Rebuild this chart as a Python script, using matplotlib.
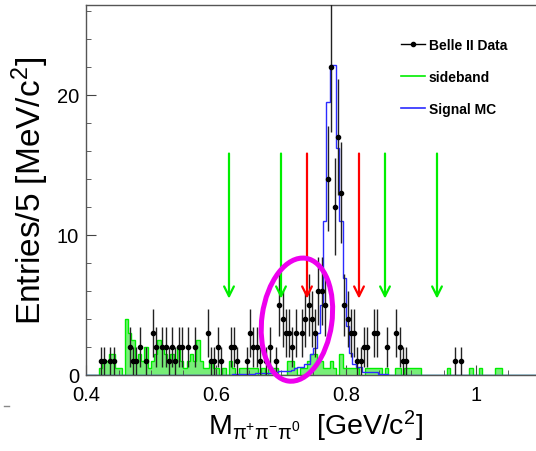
import numpy as np
import matplotlib.pyplot as plt
from matplotlib.patches import Ellipse
from matplotlib.lines import Line2D
from matplotlib.ticker import MultipleLocator, FuncFormatter
from matplotlib.transforms import ScaledTranslation

plt.rcParams['font.family'] = ['Liberation Sans', 'DejaVu Sans']
plt.rcParams['mathtext.fontset'] = 'custom'
plt.rcParams['mathtext.rm'] = 'Liberation Sans'
plt.rcParams['mathtext.it'] = 'Liberation Sans'

# 5 MeV bins from 0.40 to 1.10 GeV
bin_lo = 0.40
bin_width = 0.005

# observed counts per bin
data_counts = [
    0, 0, 0, 0, 1, 1, 0, 1, 1, 0, 0, 0, 0, 2, 1, 1, 2, 0, 1, 0,
    3, 2, 0, 2, 2, 1, 2, 1, 2, 2, 0, 2, 0, 2, 0, 0, 0, 3, 1, 1,
    2, 1, 0, 0, 2, 2, 1, 0, 0, 1, 3, 2, 2, 1, 0, 1, 2, 0, 1, 5,
    4, 3, 3, 2, 3, 0, 3, 4, 5, 4, 3, 6, 6, 5, 14, 22, 12, 17, 13, 5,
    4, 3, 3, 1, 1, 2, 2, 0, 3, 3, 0, 0, 2, 0, 0, 3, 2, 1, 1, 0,
    0, 0, 0, 0, 0, 0, 0, 0, 0, 0, 0, 0, 0, 1, 0, 1, 0, 0, 0, 0,
    0, 0, 0, 0, 0, 0, 0, 0, 0, 0, 0, 0, 0, 0, 0, 0, 0, 0, 0, 0,
]

# scaled sideband entries per bin
sideband = [
    0, 0, 0, 0, 0.5, 1, 1, 1.5, 1.5, 0.5, 0.5, 0, 4, 3, 2.5, 1, 1.5, 1, 2, 0.5,
    1, 1.5, 2.5, 2, 1.5, 1, 1.5, 1, 2, 1, 0.5, 1, 1.5, 1, 2.5, 1, 0.5, 0.5, 1, 0.5,
    0.5, 0, 0.5, 0, 1, 0.5, 0, 0.5, 0.5, 0.5, 0.5, 0.5, 0.5, 0, 0.5, 0, 0.5, 0.5, 0.5, 0,
    0, 0, 1, 1, 0.5, 0, 0.5, 0.5, 1, 1.5, 1.5, 1, 1, 0.5, 0.5, 1, 0.5, 0, 1.5, 0.5,
    0.5, 0.5, 0.5, 0.5, 0, 0, 0.5, 0.5, 0.5, 0.5, 0.5, 0, 0.5, 0, 0, 0.5, 0.5, 0, 0.5, 0.5,
    0.5, 0.5, 0.5, 0, 0, 0, 0, 0, 0, 0, 0, 0.5, 0, 0, 0, 0, 0, 0, 0.5, 0,
    0, 0.5, 0, 0, 0, 0, 0.5, 0.5, 0, 0, 0, 0, 0, 0, 0, 0, 0, 0, 0, 0,
]

# signal MC, normalised to the data peak
signal_mc = [
    0, 0, 0, 0, 0, 0, 0, 0, 0, 0, 0, 0, 0, 0, 0, 0, 0, 0, 0, 0,
    0, 0, 0, 0, 0, 0, 0, 0, 0, 0, 0, 0, 0, 0, 0, 0, 0, 0, 0, 0,
    0, 0, 0, 0, 0, 0.05, 0.05, 0.1, 0.1, 0.1, 0.1, 0.1, 0.15, 0.15, 0.15, 0.15, 0.15, 0.2, 0.2, 0.25,
    0.25, 0.3, 0.3, 0.35, 0.5, 0.55, 0.55, 0.8, 0.8, 1.5, 1.9, 3.0, 5.0, 11.0, 19.5, 22.1, 22.1, 16.2, 11.0, 6.9,
    3.5, 1.6, 0.8, 0.55, 0.55, 0.2, 0.2, 0.2, 0.2, 0.2, 0.1, 0.1, 0.1, 0, 0, 0, 0, 0, 0, 0,
    0, 0, 0, 0, 0, 0, 0, 0, 0, 0, 0, 0, 0, 0, 0, 0, 0, 0, 0, 0,
    0, 0, 0, 0, 0, 0, 0, 0, 0, 0, 0, 0, 0, 0, 0, 0, 0, 0, 0, 0,
]

# selection windows (GeV)
sideband_cuts = [0.62, 0.70, 0.86, 0.94]
signal_cuts = [0.74, 0.82]

edges = np.round(bin_lo + bin_width * np.arange(len(data_counts) + 1), 4)
centers = 0.5 * (edges[:-1] + edges[1:])
counts = np.array(data_counts, dtype=float)
has_entry = counts > 0

fig = plt.figure(figsize=(5.36, 4.52), dpi=100)
ax = fig.add_axes([86 / 536, 1 - 376 / 452, 450 / 536, 370 / 452])

# sideband: filled histogram with a solid outline
ax.stairs(sideband, edges, fill=True, color='#78ee78', lw=0, zorder=1)
ax.stairs(sideband, edges, color='#00ee00', lw=1.0, zorder=2)

# signal MC
ax.stairs(signal_mc, edges, color='#2b2bff', lw=1.0, zorder=3)

# data with poisson errors
ax.errorbar(centers[has_entry], counts[has_entry], yerr=np.sqrt(counts[has_entry]),
            xerr=bin_width / 2, fmt='o', ms=3.0, color='black', ecolor='#222222',
            elinewidth=1.0, capsize=0, zorder=4)

# cut arrows
arrow_top, arrow_tip = 16.0, 5.25
arrow_style = '->,head_length=0.7,head_width=0.35'
for cut in sideband_cuts:
    ax.annotate('', xy=(cut, arrow_tip), xytext=(cut, arrow_top),
                arrowprops=dict(arrowstyle=arrow_style, color='#00ee00', lw=1.6), zorder=5)
for cut in signal_cuts:
    ax.annotate('', xy=(cut, arrow_tip), xytext=(cut, arrow_top),
                arrowprops=dict(arrowstyle=arrow_style, color='#ff0000', lw=1.6), zorder=5)

# highlight ring round the low-mass excess (size in inches)
ring = Ellipse((0, 0), width=0.70, height=1.24, angle=-8, fill=False,
               edgecolor='#ee00ee', lw=3.6, zorder=6, clip_on=False,
               transform=fig.dpi_scale_trans + ScaledTranslation(0.7245, 3.95, ax.transData))
ax.add_patch(ring)

ax.set_xlim(bin_lo, 0.4 + 450 / 650)
ax.set_ylim(0, 26.4)

ax.xaxis.set_major_locator(MultipleLocator(0.2))
ax.xaxis.set_minor_locator(MultipleLocator(0.05))
ax.yaxis.set_major_locator(MultipleLocator(10))
ax.yaxis.set_minor_locator(MultipleLocator(2))
ax.xaxis.set_major_formatter(FuncFormatter(lambda v, p: '%g' % round(v, 3)))
ax.tick_params(which='both', direction='in', labelsize=14.5, color='#444444')
ax.tick_params(axis='x', which='major', length=7, pad=7)
ax.tick_params(axis='y', which='major', length=7, pad=5)
ax.tick_params(which='minor', length=3.6)
for side in ['left', 'bottom', 'top']:
    ax.spines[side].set_color('#555555')
    ax.spines[side].set_linewidth(1.0)
ax.spines['right'].set_visible(False)

ax.set_ylabel(r'Entries/5 [MeV/c$^{2}$]', fontsize=24)
ax.yaxis.set_label_coords(-0.078, 0.5)
ax.set_xlabel(r'M$_{\mathrm{\pi^{+}\pi^{-}\pi^{0}}}$  [GeV/c$^{2}$]', fontsize=20.5)
ax.xaxis.set_label_coords(0.51, -0.09)

handles = [
    Line2D([], [], color='black', marker='o', ms=3.0, lw=1.0),
    Line2D([], [], color='#00ee00', lw=1.2),
    Line2D([], [], color='#2b2bff', lw=1.2),
]
ax.legend(handles, ['Belle II Data', 'sideband', 'Signal MC'], loc='upper left',
          bbox_to_anchor=(0.70, 0.91), frameon=False, borderpad=0, borderaxespad=0,
          handlelength=1.7, handletextpad=0.3, labelspacing=1.28,
          prop={'family': 'Liberation Sans', 'weight': 'bold', 'size': 10})

# small stray tick at the far left margin
fig.add_artist(Line2D([4 / 536, 9 / 536], [1 - 407 / 452, 1 - 407 / 452], color='#888888', lw=1))

fig.savefig('out.png', dpi=100)
